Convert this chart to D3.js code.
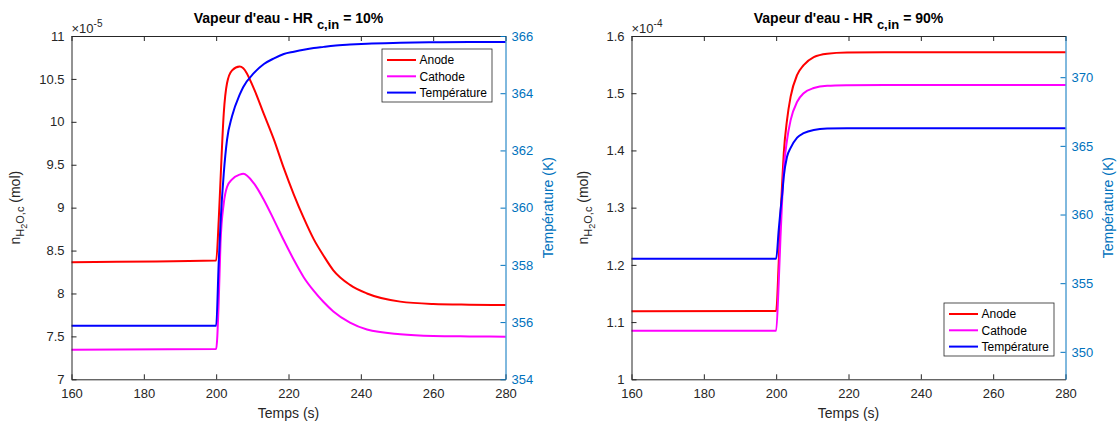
<!DOCTYPE html>
<html><head><meta charset="utf-8">
<script src="https://cdn.jsdelivr.net/npm/d3@7/dist/d3.min.js"></script>
<style>
body{margin:0;background:#fff}
svg{display:block;font-family:"Liberation Sans",Arial,Helvetica,sans-serif}
</style>
</head><body>
<svg id="chart" width="1119" height="424"></svg>
<script>
// ---------- DATA ----------
const xTicks = [160, 180, 200, 220, 240, 260, 280];

// Panel 1 : HR c,in = 10 %  (n in 1e-5 mol, T in K)
const time10    = [160, 200, 200.7, 201.2, 202.1, 203.0, 204.4, 206.5, 207.5, 210.4, 213.2, 216, 218.7, 221.5, 224.2, 227, 229.7, 232.4, 237, 241.7, 250.9, 260, 270, 280];
const anode10   = [8.365, 8.383, 8.85, 9.32, 10.10, 10.45, 10.60, 10.645, 10.625, 10.39, 10.09, 9.79, 9.46, 9.15, 8.88, 8.63, 8.44, 8.27, 8.10, 8.0, 7.905, 7.878, 7.87, 7.866];
const cathode10 = [7.345, 7.353, 7.9, 8.586, 9.05, 9.24, 9.33, 9.385, 9.395, 9.285, 9.09, 8.855, 8.62, 8.39, 8.19, 8.03, 7.90, 7.79, 7.66, 7.58, 7.525, 7.505, 7.50, 7.497];
const temp10    = [355.87, 355.87, 358.06, 359.45, 361.2, 362.37, 363.2, 363.95, 364.22, 364.7, 365.02, 365.22, 365.37, 365.45, 365.52, 365.58, 365.62, 365.66, 365.70, 365.73, 365.76, 365.78, 365.79, 365.79];
const yTicks10 = [7, 7.5, 8, 8.5, 9, 9.5, 10, 10.5, 11];
const tTicks10 = [354, 356, 358, 360, 362, 364, 366];

// Panel 2 : HR c,in = 90 %  (n in 1e-4 mol, T in K)
const time90    = [160, 200, 200.7, 201.2, 201.7, 202.1, 203.0, 204.0, 205.8, 207.6, 210.4, 214.1, 219.6, 230, 250, 280];
const anode90   = [1.119, 1.1194, 1.203, 1.284, 1.348, 1.395, 1.453, 1.494, 1.532, 1.549, 1.563, 1.569, 1.571, 1.5715, 1.5715, 1.5715];
const cathode90 = [1.085, 1.085, 1.168, 1.249, 1.319, 1.366, 1.418, 1.453, 1.485, 1.500, 1.509, 1.513, 1.514, 1.5145, 1.5145, 1.5145];
const temp90    = [356.78, 356.78, 358.86, 360.3, 361.55, 362.75, 364.2, 364.85, 365.6, 365.92, 366.16, 366.26, 366.28, 366.28, 366.28, 366.28];
const yTicks90 = [1, 1.1, 1.2, 1.3, 1.4, 1.5, 1.6];
const tTicks90 = [350, 355, 360, 365, 370];

const seriesNames = ["Anode", "Cathode", "Température"];
const seriesColors = ["#ff0000", "#ff00ff", "#0000ff"];

// ---------- DRAW ----------
const svg = d3.select("#chart");
const AX = "#262626", RB = "#0072bd";

function panel(o) {
  const g = svg.append("g");
  const x = d3.scaleLinear().domain([160, 280]).range([o.x0, o.x1]);
  const y = d3.scaleLinear().domain(o.yDom).range([o.y1, o.y0]);
  const yr = d3.scaleLinear().domain(o.tDom).range([o.y1, o.y0]);

  const series = [
    {v: o.anode, s: y}, {v: o.cathode, s: y}, {v: o.temp, s: yr}
  ];
  series.forEach((sr, i) => {
    const line = d3.line().x((d, j) => x(o.time[j])).y(d => sr.s(d)).curve(d3.curveMonotoneX);
    g.append("path").datum(sr.v).attr("d", line).attr("fill", "none")
      .attr("stroke", seriesColors[i]).attr("stroke-width", 2);
  });

  function style(sel, col) {
    sel.attr("font-family", null).attr("font-size", null);
    sel.selectAll("text").attr("font-size", 13).attr("fill", col);
    sel.selectAll("line").attr("stroke", col);
    sel.select(".domain").attr("stroke", col);
  }
  g.append("g").attr("transform", `translate(0,${o.y1})`)
    .call(d3.axisBottom(x).tickValues(xTicks).tickSize(-5).tickSizeOuter(0).tickPadding(9).tickFormat(d3.format("d")))
    .call(s => style(s, AX));
  g.append("g").attr("transform", `translate(0,${o.y0})`)
    .call(d3.axisTop(x).tickValues(xTicks).tickSize(-5).tickSizeOuter(0).tickFormat(""))
    .call(s => style(s, AX));
  g.append("g").attr("transform", `translate(${o.x0},0)`)
    .call(d3.axisLeft(y).tickValues(o.yTicks).tickSize(-5).tickSizeOuter(0).tickPadding(7).tickFormat(d3.format("~g")))
    .call(s => style(s, AX));
  g.append("g").attr("transform", `translate(${o.x1},0)`)
    .call(d3.axisRight(yr).tickValues(o.tTicks).tickSize(-5).tickSizeOuter(0).tickPadding(6).tickFormat(d3.format("d")))
    .call(s => style(s, RB));

  const cx = (o.x0 + o.x1) / 2, cy = (o.y0 + o.y1) / 2;
  const t = g.append("text").attr("x", cx).attr("y", 23).attr("text-anchor", "middle")
    .attr("font-weight", "bold").attr("font-size", 14).attr("fill", "#000");
  t.append("tspan").text("Vapeur d'eau - HR ");
  t.append("tspan").attr("font-size", 13).attr("dy", 6).text("c,in");
  t.append("tspan").attr("dy", -6).text(" = " + o.pct);

  const e = g.append("text").attr("x", o.x0).attr("y", 33).attr("font-size", 13).attr("fill", AX);
  e.append("tspan").text("×10");
  e.append("tspan").attr("font-size", 10).attr("dy", -6).text(o.exp);

  g.append("text").attr("x", cx).attr("y", 418).attr("text-anchor", "middle")
    .attr("font-size", 14).attr("fill", AX).text("Temps (s)");

  const yl = g.append("text").attr("transform", `translate(${o.ylx},${cy}) rotate(-90)`)
    .attr("text-anchor", "middle").attr("font-size", 14).attr("fill", AX);
  yl.append("tspan").text("n");
  yl.append("tspan").attr("font-size", 11).attr("dy", 4).text("H");
  yl.append("tspan").attr("font-size", 9).attr("dy", 3).text("2");
  yl.append("tspan").attr("font-size", 11).attr("dy", -3).text("O,c");
  yl.append("tspan").attr("dy", -4).text(" (mol)");

  g.append("text").attr("transform", `translate(${o.yrx},${cy}) rotate(-90)`)
    .attr("text-anchor", "middle").attr("font-size", 14).attr("fill", RB).text("Température (K)");

  const L = g.append("g").attr("transform", `translate(${o.lx},${o.ly})`);
  L.append("rect").attr("width", 110).attr("height", 53).attr("fill", "#fff")
    .attr("stroke", AX).attr("stroke-width", 0.8);
  seriesNames.forEach((n, i) => {
    const yy = 11 + i * 16.3;
    L.append("line").attr("x1", 5).attr("x2", 34).attr("y1", yy).attr("y2", yy)
      .attr("stroke", seriesColors[i]).attr("stroke-width", 2);
    L.append("text").attr("x", 37.5).attr("y", yy).attr("dy", "0.35em")
      .attr("font-size", 12).attr("fill", "#000").text(n);
  });
}

panel({x0: 71.5, x1: 505.5, y0: 36, y1: 379.3, yDom: [7, 11], tDom: [354, 366],
  time: time10, anode: anode10, cathode: cathode10, temp: temp10,
  yTicks: yTicks10, tTicks: tTicks10, pct: "10%", exp: "-5",
  ylx: 20, yrx: 553, lx: 382, ly: 49});
panel({x0: 631.5, x1: 1065.5, y0: 36, y1: 379.3, yDom: [1, 1.6], tDom: [348, 373],
  time: time90, anode: anode90, cathode: cathode90, temp: temp90,
  yTicks: yTicks90, tTicks: tTicks90, pct: "90%", exp: "-4",
  ylx: 588, yrx: 1113, lx: 944, ly: 303});
</script>
</body></html>
